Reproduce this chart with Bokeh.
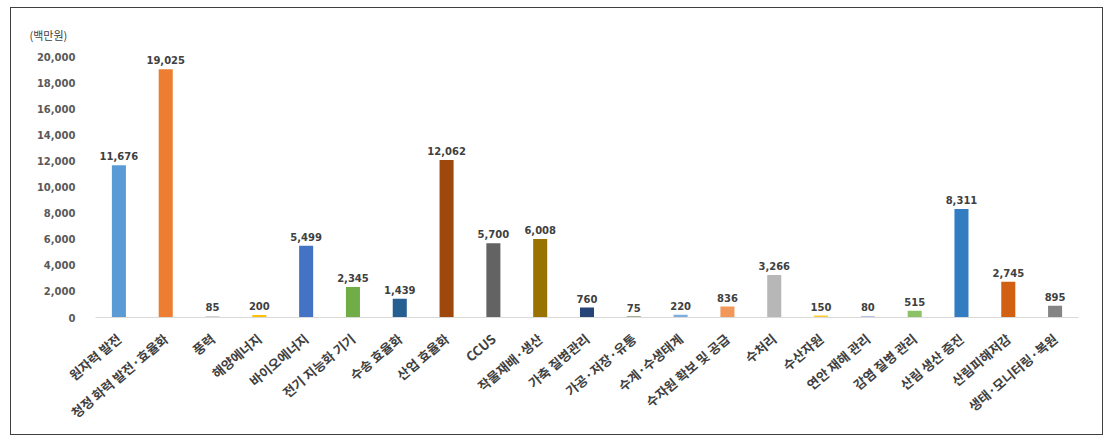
from bokeh.plotting import figure
from bokeh.models import ColumnDataSource, NumeralTickFormatter, FixedTicker, Title, Range1d
from bokeh.core.properties import value
from bokeh.embed import file_html
from bokeh.resources import INLINE

categories = ["원자력 발전", "청정 화력 발전·효율화", "풍력", "해양에너지", "바이오에너지",
              "전기 지능화 기기", "수송 효율화", "산업 효율화", "CCUS", "작물재배·생산",
              "가축 질병관리", "가공·저장·유통", "수계·수생태계", "수자원 확보 및 공급", "수처리",
              "수산자원", "연안 재해 관리", "감염 질병 관리", "산림 생산 증진", "산림피해저감",
              "생태·모니터링·복원"]
values = [11676, 19025, 85, 200, 5499, 2345, 1439, 12062, 5700, 6008,
          760, 75, 220, 836, 3266, 150, 80, 515, 8311, 2745, 895]
colors = ["#5B9BD5", "#ED7D31", "#A5A5A5", "#FFC000", "#4472C4", "#70AD47", "#255E91",
          "#9E480E", "#636363", "#997300", "#264478", "#43682B", "#7CAFDD", "#F1975A",
          "#B7B7B7", "#FFCD33", "#698ED0", "#8CC168", "#327DC2", "#D26012", "#848484"]
y_ticks = list(range(0, 20001, 2000))

src = ColumnDataSource(dict(cat=categories, val=values, col=colors,
                            lab=[f"{v:,}" for v in values]))

p = figure(x_range=categories, y_range=Range1d(0, 21000), width=1093, height=428,
           output_backend="svg", toolbar_location=None,
           min_border_left=84, min_border_right=26, min_border_top=35, min_border_bottom=119,
           margin=(7, 0, 0, 10),
           styles={"border": "1.5px solid #404040", "box-sizing": "border-box"})
p.outline_line_color = None
p.background_fill_color = "white"
p.border_fill_color = "white"
p.xgrid.grid_line_color = None
p.ygrid.grid_line_color = None

p.title = Title(text="(백만원)", align="left", offset=-66, text_font="Noto Sans CJK KR",
                text_font_size="11px", text_font_style="normal", text_color="#404040",
                standoff=2)

p.vbar(x="cat", top="val", width=0.3, fill_color="col", line_color=None, source=src)
p.text(x="cat", y="val", text="lab", source=src, text_align="center", text_baseline="bottom",
       y_offset=-5, text_font=value("DejaVu Sans"), text_font_style="bold",
       text_font_size="10px", text_color="#404040")

p.yaxis.ticker = FixedTicker(ticks=y_ticks)
p.yaxis.formatter = NumeralTickFormatter(format="0,0")
p.yaxis.axis_line_color = None
p.yaxis.major_tick_line_color = None
p.yaxis.minor_tick_line_color = None
p.yaxis.major_label_standoff = 14
p.yaxis.major_label_text_font = "DejaVu Sans"
p.yaxis.major_label_text_font_style = "bold"
p.yaxis.major_label_text_font_size = "10px"
p.yaxis.major_label_text_color = "#595959"

p.xaxis.axis_line_color = "#D9D9D9"
p.xaxis.major_tick_line_color = None
p.xaxis.minor_tick_line_color = None
p.xaxis.major_label_orientation = 0.7
p.xaxis.major_label_standoff = 13
p.xaxis.major_label_text_font = "Noto Sans CJK KR"
p.xaxis.major_label_text_font_style = "bold"
p.xaxis.major_label_text_font_size = "13px"
p.xaxis.major_label_text_color = "#404040"

open("out.html", "w").write(file_html(p, INLINE))
